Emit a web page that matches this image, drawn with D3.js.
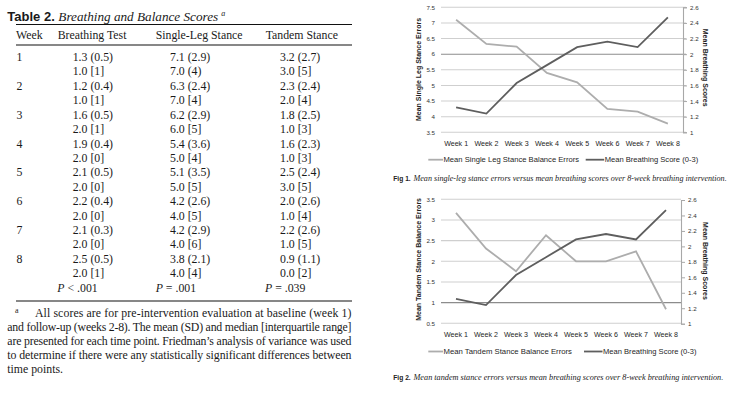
<!DOCTYPE html>
<html><head><meta charset="utf-8">
<script src="https://cdn.jsdelivr.net/npm/d3@7/dist/d3.min.js"></script>
<style>
html,body{margin:0;padding:0;background:#fff;}
svg{display:block;}
</style></head>
<body>
<svg id="c" width="743" height="393"></svg>
<script>
// ---------- DATA ----------
const weeks = ["Week 1","Week 2","Week 3","Week 4","Week 5","Week 6","Week 7","Week 8"];
const singleLegErrors = [7.1, 6.33, 6.24, 5.4, 5.1, 4.25, 4.16, 3.78];
const tandemErrors = [3.17, 2.31, 1.76, 2.63, 2.0, 2.0, 2.24, 0.84];
const breathingScores = [1.32, 1.24, 1.63, 1.86, 2.09, 2.16, 2.09, 2.47];
const singleLegTicks = [3.5, 4, 4.5, 5, 5.5, 6, 6.5, 7, 7.5];
const tandemTicks = [0.5, 1, 1.5, 2, 2.5, 3, 3.5];
const breathingTicks = [1, 1.2, 1.4, 1.6, 1.8, 2, 2.2, 2.4, 2.6];

const tableHeaders = ["Week", "Breathing Test", "Single-Leg Stance", "Tandem Stance"];
const tableWeeks = ["1","2","3","4","5","6","7","8"];
const breathMeanSD = ["1.3 (0.5)","1.2 (0.4)","1.6 (0.5)","1.9 (0.4)","2.1 (0.5)","2.2 (0.4)","2.1 (0.3)","2.5 (0.5)"];
const breathMedIQR = ["1.0 [1]","1.0 [1]","2.0 [1]","2.0 [0]","2.0 [0]","2.0 [0]","2.0 [0]","2.0 [1]"];
const slsMeanSD = ["7.1 (2.9)","6.3 (2.4)","6.2 (2.9)","5.4 (3.6)","5.1 (3.5)","4.2 (2.6)","4.2 (2.9)","3.8 (2.1)"];
const slsMedIQR = ["7.0 (4)","7.0 [4]","6.0 [5]","5.0 [4]","5.0 [5]","4.0 [5]","4.0 [6]","4.0 [4]"];
const tsMeanSD = ["3.2 (2.7)","2.3 (2.4)","1.8 (2.5)","1.6 (2.3)","2.5 (2.4)","2.0 (2.6)","2.2 (2.6)","0.9 (1.1)"];
const tsMedIQR = ["3.0 [5]","2.0 [4]","1.0 [3]","1.0 [3]","3.0 [5]","1.0 [4]","1.0 [5]","0.0 [2]"];
const pValues = ["P < .001", "P = .001", "P = .039"];
const footnoteLines = [
  "All scores are for pre-intervention evaluation at baseline (week 1)",
  "and follow-up (weeks 2-8). The mean (SD) and median [interquartile range]",
  "are presented for each time point. Friedman\u2019s analysis of variance was used",
  "to determine if there were any statistically significant differences between",
  "time points."
];

const svg = d3.select("#c");
const serif = "'Liberation Serif','Times New Roman',serif";
const sans = "'Liberation Sans',Arial,sans-serif";
const ink = "#1a1a1a";

// ---------- TABLE ----------
const T = svg.append("g");
const title = T.append("text").attr("x", 7.3).attr("y", 21).attr("fill", ink);
title.append("tspan").attr("font-family", sans).attr("font-weight", "bold").attr("font-size", 13).text("Table 2. ");
title.append("tspan").attr("font-family", serif).attr("font-style", "italic").attr("font-size", 13.2).text("Breathing and Balance Scores");
title.append("tspan").attr("font-family", serif).attr("font-style", "italic").attr("font-size", 8).attr("dx", 3).attr("dy", -5).text("a");

const ruleX0 = 16, ruleX1 = 352;
[24.5, 45, 301].forEach(y => T.append("line").attr("x1", ruleX0).attr("x2", ruleX1).attr("y1", y).attr("y2", y).attr("stroke", "#111").attr("stroke-width", 1.2));

const headX = [16, 57.7, 155.7, 265.7];
tableHeaders.forEach((h, i) => T.append("text").attr("x", headX[i]).attr("y", 38.5)
  .attr("font-family", serif).attr("font-size", 11.8).attr("fill", ink).text(h));

const colX = [16.5, 72.7, 170, 280];
const rowY0 = 61, rowStep = 14.42;
const tcell = (x, y, s) => T.append("text").attr("x", x).attr("y", y).attr("font-family", serif)
  .attr("font-size", 11.8).attr("fill", ink).text(s);
tableWeeks.forEach((w, i) => {
  const y1 = rowY0 + (2 * i) * rowStep, y2 = y1 + rowStep;
  tcell(colX[0], y1, w);
  tcell(colX[1], y1, breathMeanSD[i]); tcell(colX[1], y2, breathMedIQR[i]);
  tcell(colX[2], y1, slsMeanSD[i]); tcell(colX[2], y2, slsMedIQR[i]);
  tcell(colX[3], y1, tsMeanSD[i]); tcell(colX[3], y2, tsMedIQR[i]);
});
const pX = [57.3, 155.7, 265];
pValues.forEach((p, i) => {
  const t = T.append("text").attr("x", pX[i]).attr("y", rowY0 + 16 * rowStep).attr("font-family", serif)
    .attr("font-size", 11.8).attr("fill", ink);
  t.append("tspan").attr("font-style", "italic").text(p.slice(0, 1));
  t.append("tspan").text(p.slice(1));
});

// footnote
T.append("text").attr("x", 15).attr("y", 312.5).attr("font-family", serif).attr("font-size", 8).attr("fill", ink).text("a");
const fnY = [317, 331, 345, 359, 373];
footnoteLines.forEach((l, i) => {
  const x0 = i === 0 ? 35 : 7.3;
  const t = T.append("text").attr("x", x0).attr("y", fnY[i]).attr("font-family", serif)
    .attr("font-size", 11.8).attr("fill", ink).text(l);
  if (i < footnoteLines.length - 1) t.attr("textLength", 351.5 - x0).attr("lengthAdjust", "spacing");
});

// ---------- CHARTS ----------
const lightC = "#adadad", darkC = "#5e5e5e", gridC = "#cfcfcf", gridDark = "#8c8c8c";

function chart(cfg) {
  const g = svg.append("g");
  const x = d3.scaleBand().domain(weeks).range([cfg.x0, cfg.x1]);
  const yL = d3.scaleLinear().domain(cfg.leftDomain).range([cfg.yB, cfg.yT]);
  const yR = d3.scaleLinear().domain([1, 2.6]).range([cfg.rB, cfg.rT]);

  g.selectAll(".gl").data(cfg.leftTicks).join("line")
    .attr("x1", cfg.x0).attr("x2", cfg.gridEnd)
    .attr("y1", d => yL(d)).attr("y2", d => yL(d))
    .attr("stroke", d => d === cfg.darkTick ? gridDark : gridC).attr("stroke-width", 1.1);
  g.selectAll(".ll").data(cfg.leftTicks).join("text")
    .attr("x", cfg.x0 - 6).attr("y", d => yL(d) + 2.3).attr("text-anchor", "end")
    .attr("font-family", sans).attr("font-size", 6.2).attr("fill", "#333").text(d => d);
  const ra = d3.axisRight(yR).tickValues(breathingTicks).tickSize(4).tickPadding(3).tickFormat(d => d);
  const rg = g.append("g").attr("transform", `translate(${cfg.x1},0)`).call(ra);
  rg.select(".domain").attr("stroke", "#a8a8a8").attr("stroke-width", 1.1);
  rg.selectAll(".tick line").attr("stroke", "#a8a8a8");
  rg.selectAll(".tick text").attr("font-family", sans).attr("font-size", 6.2).attr("fill", "#333");
  g.selectAll(".wl").data(weeks).join("text")
    .attr("x", d => x(d) + x.bandwidth() / 2).attr("y", cfg.weekY).attr("text-anchor", "middle")
    .attr("font-family", sans).attr("font-size", 7.1).attr("fill", "#1e1e1e").text(d => d);
  g.append("text").attr("transform", `translate(${cfg.ltX},${cfg.ltY}) rotate(-90)`)
    .attr("text-anchor", "middle").attr("font-family", sans).attr("font-weight", "bold")
    .attr("font-size", 7).attr("fill", "#222").text(cfg.leftTitle);
  g.append("text").attr("transform", `translate(${cfg.rtX},${cfg.rtY}) rotate(90)`)
    .attr("text-anchor", "middle").attr("font-family", sans).attr("font-weight", "bold")
    .attr("font-size", 7).attr("fill", "#222").text("Mean Breathing Scores");
  const cx = (d, i) => x(weeks[i]) + x.bandwidth() / 2;
  g.append("path").datum(cfg.errors)
    .attr("d", d3.line().x(cx).y(d => yL(d)))
    .attr("fill", "none").attr("stroke", lightC).attr("stroke-width", 1.8);
  g.append("path").datum(breathingScores)
    .attr("d", d3.line().x(cx).y(d => yR(d)))
    .attr("fill", "none").attr("stroke", darkC).attr("stroke-width", 1.8);
  const L = g.append("g");
  L.append("line").attr("x1", 428.3).attr("x2", 443).attr("y1", cfg.legY).attr("y2", cfg.legY).attr("stroke", lightC).attr("stroke-width", 1.8);
  L.append("text").attr("x", 443.5).attr("y", cfg.legY + 2.6).attr("font-family", sans).attr("font-size", 7.4).attr("fill", "#1e1e1e")
    .attr("textLength", cfg.leg1W).attr("lengthAdjust", "spacingAndGlyphs").text(cfg.legend1);
  L.append("line").attr("x1", cfg.leg2X).attr("x2", cfg.leg2X + 18.5).attr("y1", cfg.legY).attr("y2", cfg.legY).attr("stroke", darkC).attr("stroke-width", 1.8);
  L.append("text").attr("x", cfg.leg2X + 19).attr("y", cfg.legY + 2.6).attr("font-family", sans).attr("font-size", 7.4).attr("fill", "#1e1e1e")
    .attr("textLength", cfg.leg2W).attr("lengthAdjust", "spacingAndGlyphs").text("Mean Breathing Score (0-3)");
  const c = g.append("text").attr("y", cfg.capY).attr("fill", "#222");
  c.append("tspan").attr("x", 393.3).attr("font-family", sans).attr("font-weight", "bold").attr("font-size", 7.8)
    .attr("textLength", 17.4).attr("lengthAdjust", "spacingAndGlyphs").text(cfg.figLabel);
  c.append("tspan").attr("x", cfg.capX).attr("font-family", serif).attr("font-style", "italic").attr("font-size", 7.6)
    .attr("textLength", cfg.capEnd - cfg.capX).attr("lengthAdjust", "spacingAndGlyphs").text(cfg.caption);
}

chart({
  x0: 441, x1: 683, gridEnd: 686, yT: 7.3, yB: 132.3, rT: 7.3, rB: 132.3,
  leftDomain: [3.5, 7.5], leftTicks: singleLegTicks, darkTick: 6,
  errors: singleLegErrors, weekY: 146,
  leftTitle: "Mean Single Leg Stance Errors", ltX: 420.5, ltY: 69.5, rtX: 703, rtY: 67.7,
  legY: 159.7, legend1: "Mean Single Leg Stance Balance Errors", leg1W: 135.5, leg2X: 585.7, leg2W: 93.5,
  capY: 180.5, figLabel: "Fig 1.", capX: 413.5, capEnd: 726.7,
  caption: "Mean single-leg stance errors versus mean breathing scores over 8-week breathing intervention."
});
chart({
  x0: 441, x1: 681, gridEnd: 681, yT: 199.3, yB: 323.3, rT: 200, rB: 323.7,
  leftDomain: [0.5, 3.5], leftTicks: tandemTicks, darkTick: 1,
  errors: tandemErrors, weekY: 337,
  leftTitle: "Mean Tandem Stance Balance Errors", ltX: 420.5, ltY: 259.4, rtX: 703, rtY: 261,
  legY: 351.5, legend1: "Mean Tandem Stance Balance Errors", leg1W: 128.5, leg2X: 584, leg2W: 93.5,
  capY: 379.5, figLabel: "Fig 2.", capX: 413.5, capEnd: 723.3,
  caption: "Mean tandem stance errors versus mean breathing scores over 8-week breathing intervention."
});
</script>
</body></html>
